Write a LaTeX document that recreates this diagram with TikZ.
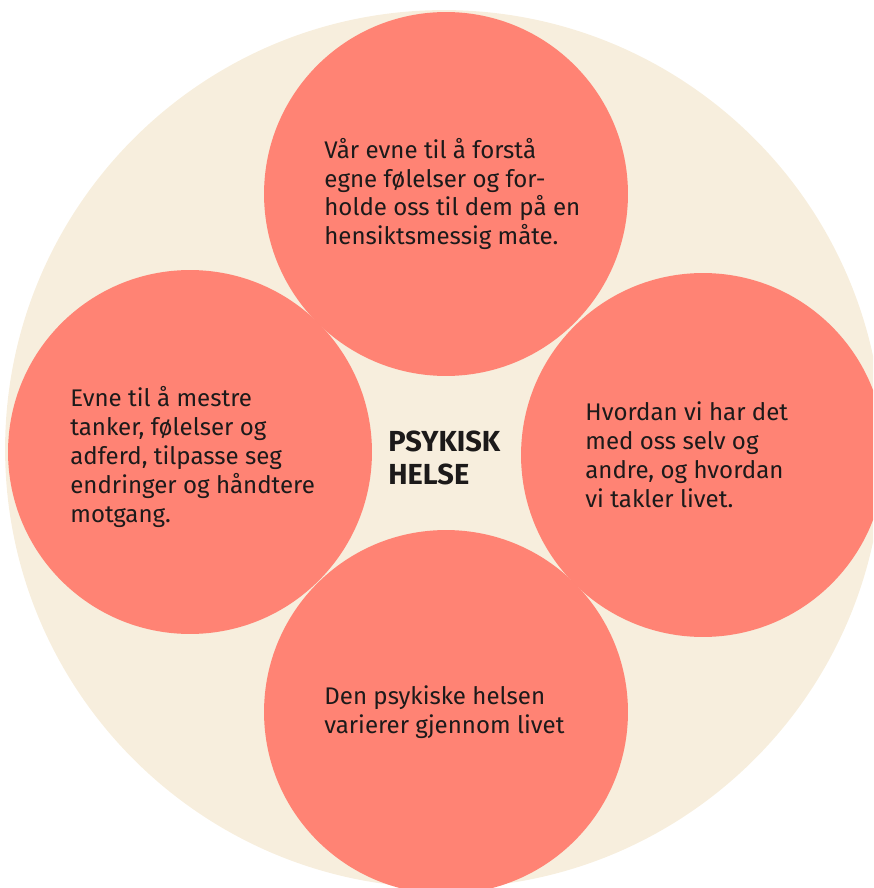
\documentclass[tikz,border=0pt]{standalone}
\usepackage{fontspec}
\setmainfont{Fira Sans}
\definecolor{beige}{HTML}{F7EEDD}
\definecolor{salmon}{HTML}{FF8374}
\definecolor{ink}{HTML}{1C1A1A}
\begin{document}
\begin{tikzpicture}[x=0.02cm,y=-0.02cm]

                    \tikzset{bubble/.style = {shape=circle,fill=salmon,minimum size=7.28cm,inner sep=0pt}}
                    \tikzset{blurb/.style = {anchor=west,align=left,text=ink,inner sep=0pt,
                                             font=\fontsize{13.7pt}{16.5pt}\selectfont}}
                    \tikzset{title/.style = {anchor=west,align=left,text=ink,inner sep=0pt,
                                             font=\fontsize{16.5pt}{18.5pt}\selectfont\bfseries}}
                    \clip (0,0) rectangle (873,888);
                    \node[circle,fill=beige,minimum size=17.56cm] (bg) at (444,449) {};

                    \node[bubble] (top) at (446,194) {};
                    \node[bubble] (left) at (190,452) {};
                    \node[bubble] (right) at (703,455) {};
                    \node[bubble] (bottom) at (446,712) {};

                    \node[blurb] (toptext) at ([xshift=-2.44cm]top.center) {V\aa r evne til \aa{} forst\aa\\egne f\o lelser og for-\\holde oss til dem p\aa{} en\\hensiktsmessig m\aa te.};
                    \node[blurb] (lefttext) at ([xshift=-2.4cm,yshift=-0.1cm]left.center) {Evne til \aa{} mestre\\tanker, f\o lelser og\\adferd, tilpasse seg\\endringer og h\aa ndtere\\motgang.};
                    \node[blurb] (righttext) at ([xshift=-2.36cm]right.center) {Hvordan vi har det\\med oss selv og\\andre, og hvordan\\vi takler livet.};
                    \node[blurb] (bottomtext) at ([xshift=-2.44cm]bottom.center) {Den psykiske helsen\\varierer gjennom livet};

                    \node[title] (label) at (388,458) {PSYKISK\\HELSE};

                \end{tikzpicture}
\end{document}
